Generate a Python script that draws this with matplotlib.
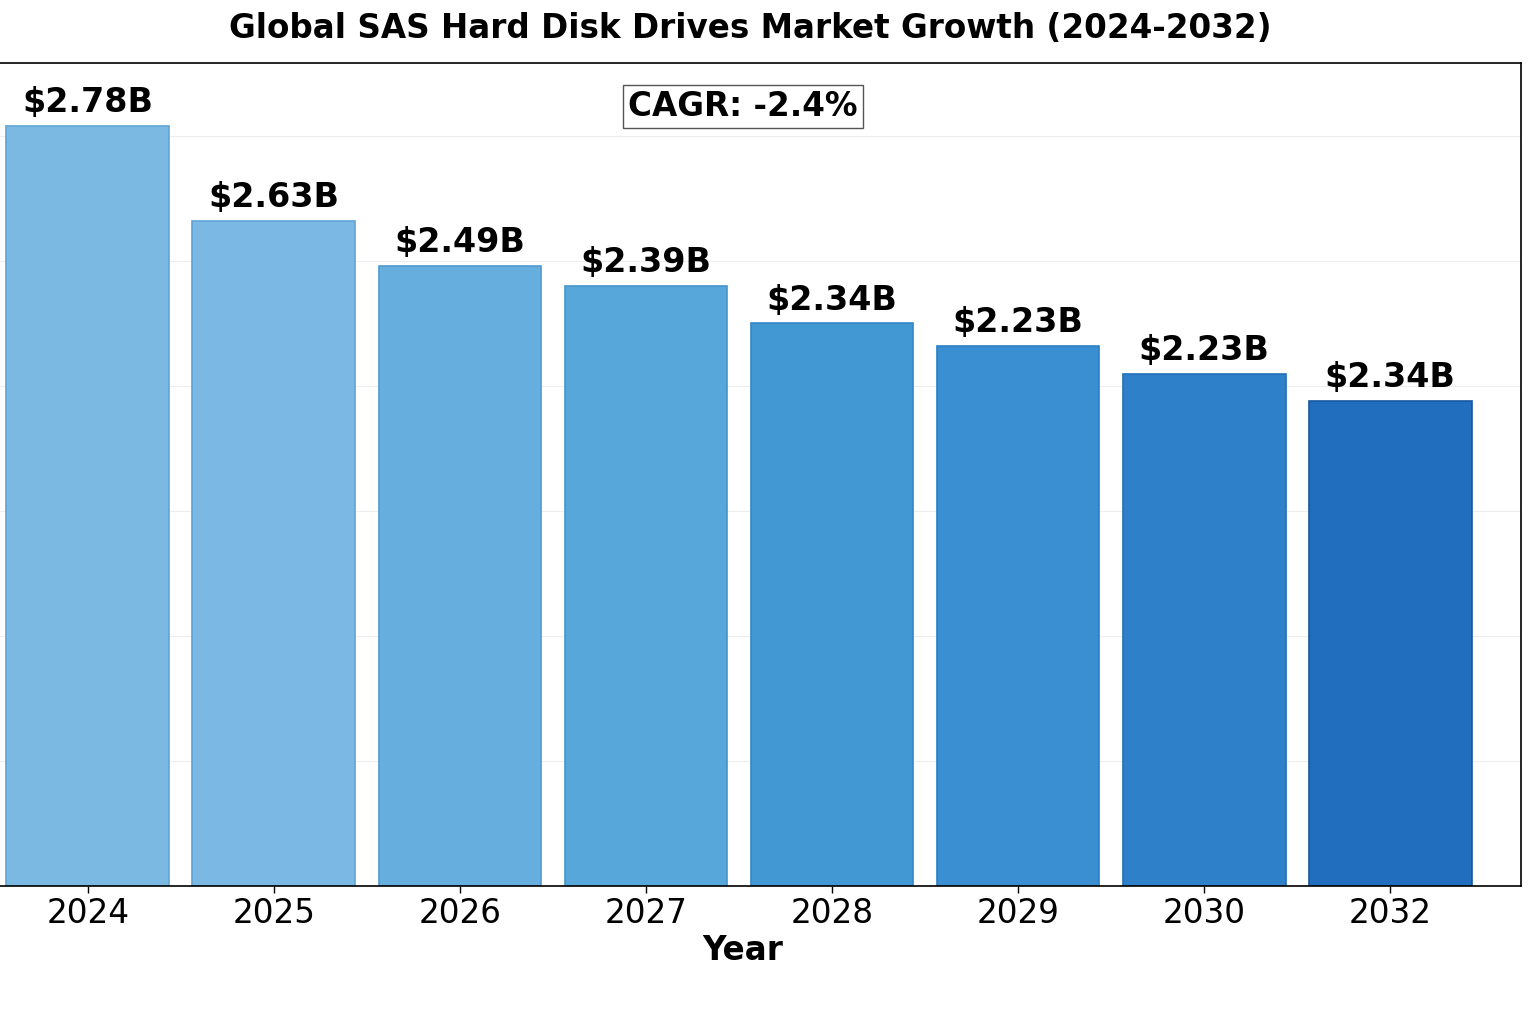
import matplotlib
matplotlib.use("Agg")
import matplotlib.pyplot as plt
import numpy as np

years = ["2024", "2025", "2026", "2027", "2028", "2029", "2030", "2032"]
bar_heights = [3.04, 2.66, 2.48, 2.40, 2.25, 2.16, 2.05, 1.94]
value_labels = ["$2.78B", "$2.63B", "$2.49B", "$2.39B", "$2.34B", "$2.23B", "$2.23B", "$2.34B"]
cagr_text = "CAGR: -2.4%"
title = "Global SAS Hard Disk Drives Market Growth (2024-2032)"

colors = ["#7bb9e3", "#7bb8e3", "#65aede", "#57a7da", "#4298d3", "#3a8ed2", "#2e80c9", "#206ebd"]
edges = ["#5fa5d6", "#5fa5d6", "#4f9bd3", "#4596cf", "#3388c7", "#2b7fc4", "#2070ba", "#15589f"]

plt.rcParams['font.family'] = ['DejaVu Sans']
fig = plt.figure(figsize=(15.36, 10.24), dpi=100)
ax = fig.add_axes([-35/1536, 1 - 886/1024, (1521 + 35)/1536, (886 - 63)/1024])

x = np.arange(len(years))
ax.bar(x, bar_heights, width=0.876, color=colors, edgecolor=edges, linewidth=1.2, zorder=2)

for xi, h, lab in zip(x, bar_heights, value_labels):
    ax.annotate(lab, (xi, h), xytext=(0, 5), textcoords="offset points",
                ha="center", va="bottom", fontsize=24, fontweight="bold", zorder=3)

ax.set_xlim(-0.661, 7.704)
ax.set_ylim(0, 3.292)
ax.set_yticks(np.arange(0, 3.3, 0.5))
ax.yaxis.grid(True, color="#e6e6e6", linewidth=0.8, alpha=0.7, zorder=0)
ax.set_axisbelow(True)
ax.tick_params(axis="y", left=False, labelleft=False)
ax.set_xticks(x)
ax.set_xticklabels(years, fontsize=23.5)
ax.tick_params(axis="x", length=5, width=1, pad=3)
ax.set_xlabel("Year", fontsize=23.5, fontweight="bold", labelpad=3)

for s in ax.spines.values():
    s.set_color("black")
    s.set_linewidth(1.2)

ax.text(0.5, 0.947, cagr_text, transform=ax.transAxes, ha="center", va="center",
        fontsize=23.5, fontweight="bold",
        bbox=dict(boxstyle="square,pad=0.15", facecolor="white", edgecolor="#555555", linewidth=1))

fig.text(750/1536, 1 - 28/1024, title, ha="center", va="center", fontsize=23.5, fontweight="bold")

fig.savefig("out.png", dpi=100)
